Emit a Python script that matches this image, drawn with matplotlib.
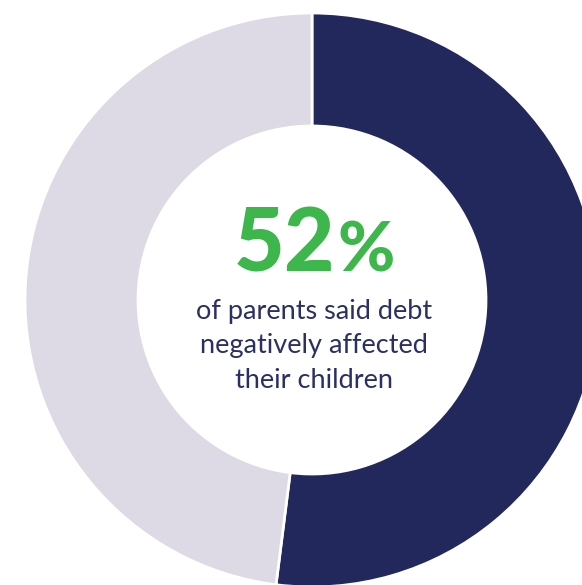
import matplotlib
matplotlib.use("Agg")
import matplotlib.pyplot as plt

labels = ["Negatively affected", "Other"]
values = [52, 48]
colors = ["#22285c", "#dddae5"]
headline = "52"
headline_suffix = "%"
caption = ["of parents said debt", "negatively affected", "their children"]

W, H = 582, 585
fig = plt.figure(figsize=(W / 100, H / 100), dpi=100)
ax = fig.add_axes([0, 0, 1, 1])
cx, cy, R, r = 312, H - 300, 287, 174
ax.pie(values, colors=colors, startangle=90, counterclock=False,
       center=(cx, cy), radius=R,
       wedgeprops=dict(width=R - r, edgecolor="white", linewidth=2))
ax.set_xlim(0, W)
ax.set_ylim(0, H)
ax.set_aspect("equal")
ax.axis("off")

fam = ["Lato", "DejaVu Sans"]
ax.text(284, H - 272, headline, ha="center", va="baseline", fontsize=63,
        fontweight="black", color="#3db64b", family=fam)
ax.text(366, H - 272, headline_suffix, ha="center", va="baseline", fontsize=50,
        fontweight="black", color="#3db64b", family=fam)
for i, line in enumerate(caption):
    ax.text(314, H - (319 + i * 34.5), line, ha="center", va="baseline",
            fontsize=19.5, color="#2b3064", family=fam)

fig.savefig("out.png", dpi=100)
